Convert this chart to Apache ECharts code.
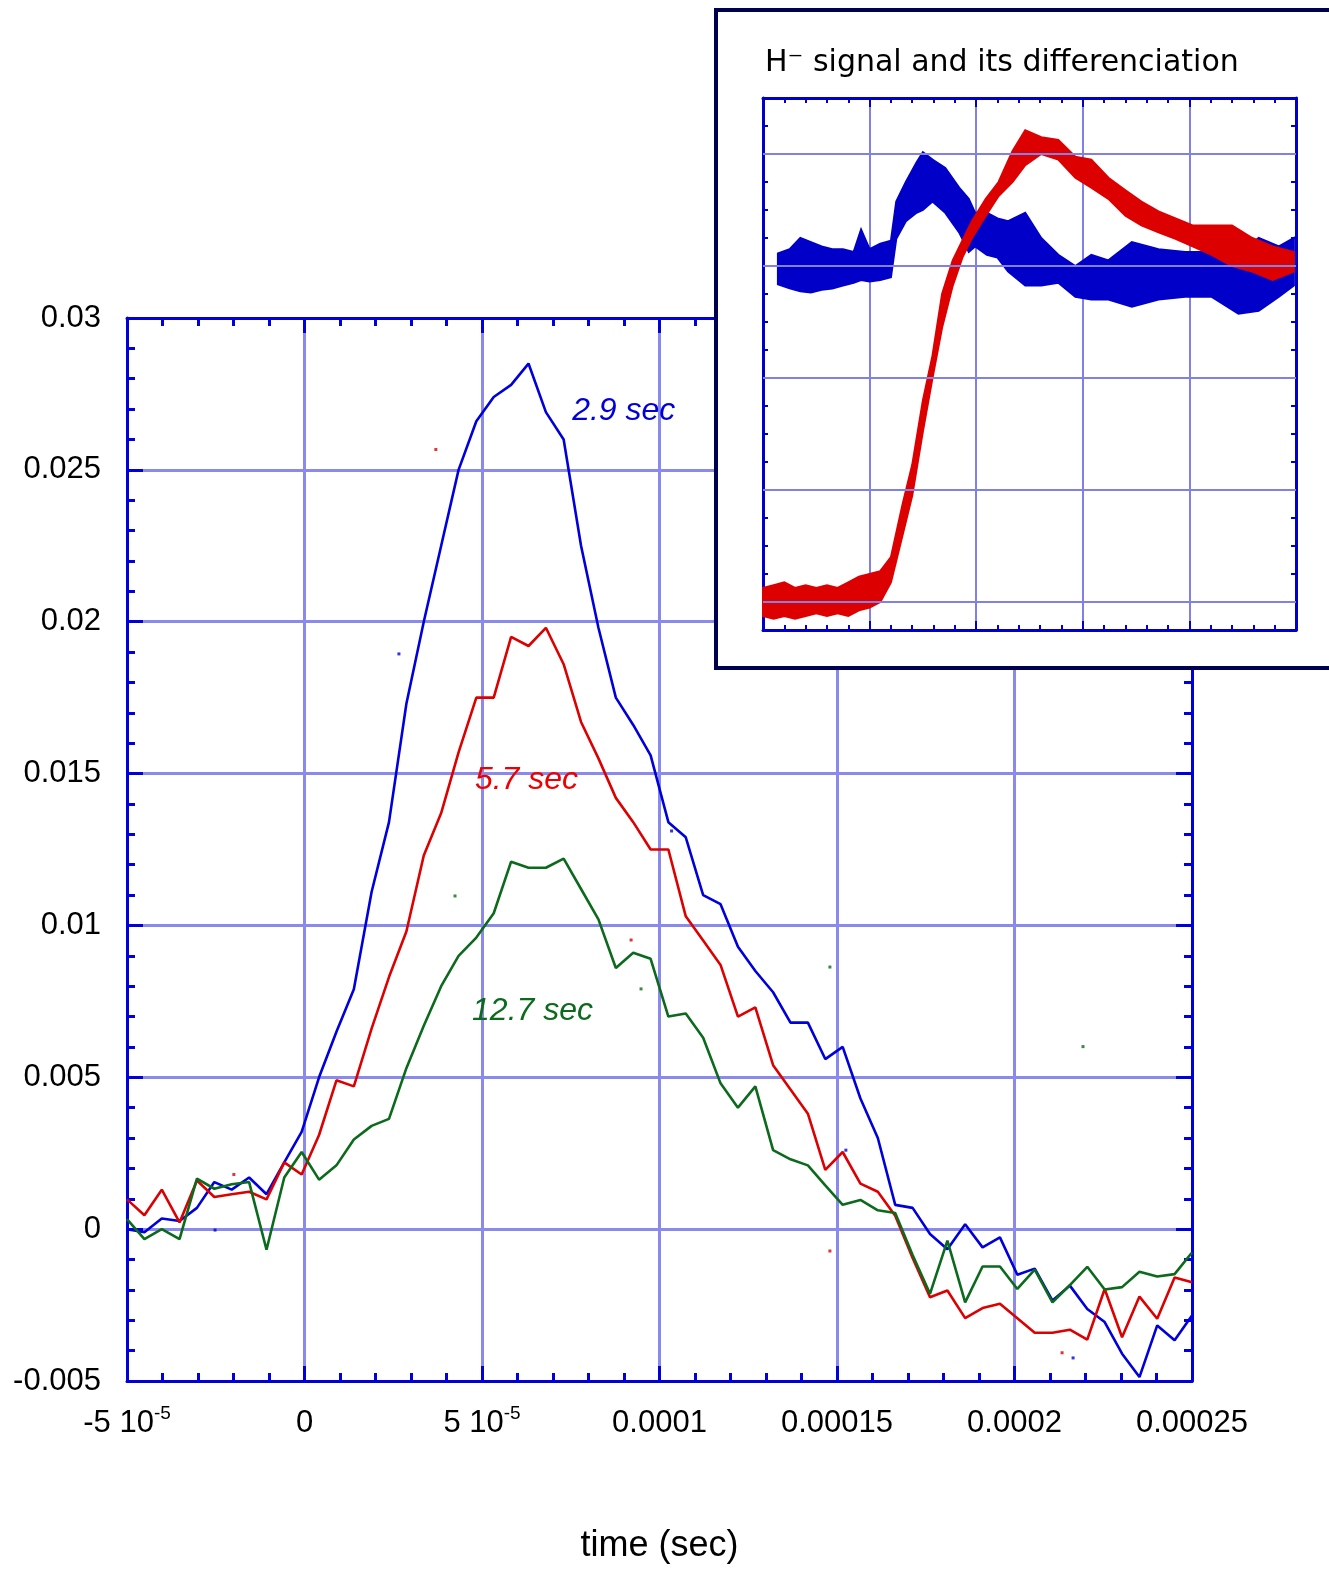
<!DOCTYPE html>
<html>
<head>
<meta charset="utf-8">
<title>H- signal</title>
<script src="https://cdn.jsdelivr.net/npm/echarts@6/dist/echarts.min.js"></script>
<style>
    html, body { margin: 0; padding: 0; background: #fff; overflow: hidden; }
    #main { position: absolute; left: 0; top: 0; width: 1329px; height: 1569px; }
    #inset { position: absolute; left: 714px; top: 8px; width: 622px; height: 662px;
             border: 4px solid #000050; box-sizing: border-box; background: #fff; }
    #insetChart { width: 614px; height: 654px; }
</style>
</head>
<body>
<div id="main"></div>
<div id="inset"><div id="insetChart"></div></div>
<script>
// 采样时间 (微秒)
var timeUs = [-50.0, -45.1, -40.2, -35.2, -30.3, -25.4, -20.5, -15.6, -10.7, -5.7,
    -0.8, 4.1, 9.0, 13.9, 18.9, 23.8, 28.7, 33.6, 38.5, 43.4,
    48.4, 53.3, 58.2, 63.1, 68.0, 73.0, 77.9, 82.8, 87.7, 92.6,
    97.5, 102.5, 107.4, 112.3, 117.2, 122.1, 127.0, 132.0, 136.9, 141.8,
    146.7, 151.6, 156.6, 161.5, 166.4, 171.3, 176.2, 181.1, 186.1, 191.0,
    195.9, 200.8, 205.7, 210.7, 215.6, 220.5, 225.4, 230.3, 235.2, 240.2,
    245.1, 250.0];

// 2.9 sec
var blueVals = [0.0000, -0.0001, 0.00035, 0.00027, 0.0007, 0.00155, 0.0013, 0.0017, 0.00115, 0.0022,
    0.0032, 0.0050, 0.0065, 0.0079, 0.0111, 0.0134, 0.0173, 0.0200, 0.0225, 0.0250,
    0.0266, 0.0274, 0.0278, 0.0285, 0.0269, 0.0260, 0.0225, 0.0198, 0.0175, 0.0166,
    0.0156, 0.0134, 0.0129, 0.0110, 0.0107, 0.0093, 0.0085, 0.0078, 0.0068, 0.0068,
    0.0056, 0.0060, 0.0043, 0.0030, 0.0008, 0.0007, -0.00016, -0.00066, 0.00016, -0.0006,
    -0.00027, -0.0015, -0.0013, -0.00235, -0.00186, -0.00263, -0.00306, -0.0041, -0.00487, -0.00317,
    -0.00366, -0.00284];

// 5.7 sec
var redVals = [0.00098, 0.00046, 0.0013, 0.00022, 0.0016, 0.00106, 0.00115, 0.00123, 0.00098, 0.0022,
    0.0018, 0.0031, 0.0049, 0.0047, 0.0066, 0.0083, 0.0098, 0.0123, 0.0137, 0.0157,
    0.0175, 0.0175, 0.0195, 0.0192, 0.0198, 0.0186, 0.0167, 0.0155, 0.0142, 0.0134,
    0.0125, 0.0125, 0.0103, 0.0095, 0.0087, 0.0070, 0.0073, 0.0054, 0.0046, 0.0038,
    0.00195, 0.00254, 0.0015, 0.00123, 0.00044, -0.00095, -0.00224, -0.00202, -0.00293, -0.0026,
    -0.00246, -0.00293, -0.00341, -0.00341, -0.00331, -0.00364, -0.00197, -0.00356, -0.00222, -0.00295,
    -0.00159, -0.00175];

// 12.7 sec
var greenVals = [0.00033, -0.00033, 0.0000, -0.00033, 0.00166, 0.00133, 0.00148, 0.00155, -0.00068, 0.0017,
    0.00254, 0.00163, 0.0021, 0.00295, 0.0034, 0.00363, 0.0053, 0.0067, 0.0080, 0.0090,
    0.0096, 0.0104, 0.0121, 0.0119, 0.0119, 0.0122, 0.0112, 0.0102, 0.0086, 0.0091,
    0.0089, 0.0070, 0.0071, 0.0063, 0.0048, 0.0040, 0.0047, 0.0026, 0.0023, 0.0021,
    0.00144, 0.0008, 0.00096, 0.00062, 0.00053, -0.00085, -0.00213, -0.00038, -0.00241, -0.00123,
    -0.00123, -0.00197, -0.00133, -0.00241, -0.00184, -0.00124, -0.00199, -0.00191, -0.0014, -0.00156,
    -0.00148, -0.00077];

// 散点 [微秒, 值]
var blueDots = [[26.6, 0.01894], [-25.2, -0.00003], [152.5, 0.0026], [216.5, -0.00424], [103.4, 0.01311]];
var redDots = [[37.0, 0.02567], [92.0, 0.00952], [148.0, -0.00072], [-19.9, 0.0018], [213.4, -0.00407]];
var greenDots = [[42.4, 0.01097], [94.8, 0.00791], [148.0, 0.00863], [219.3, 0.00601]];

// 曲线标注 [微秒, 值]
var seriesNames = ['2.9 sec', '5.7 sec', '12.7 sec'];
var labelAt = [[75.4, 0.02695], [48.0, 0.0148], [47.2, 0.00719]];

var xTickLabels = ['{b|-5 10}{sup|-5}', '{b|0}', '{b|5 10}{sup|-5}', '{b|0.0001}', '{b|0.00015}', '{b|0.0002}', '{b|0.00025}'];
var yTickLabels = ['-0.005', '0', '0.005', '0.01', '0.015', '0.02', '0.025', '0.03'];

// 插图数据 (任意单位), 噪声带的上下包络
var blueU = [0.14, 0.25, 0.35, 0.45, 0.55, 0.65, 0.75, 0.85, 0.92, 1.0, 1.1, 1.2, 1.25, 1.34, 1.44, 1.5, 1.59, 1.71,
    1.84, 1.93, 1.99, 2.1, 2.2, 2.3, 2.46, 2.61, 2.77, 2.93, 3.08, 3.24, 3.46, 3.71, 3.96, 4.21, 4.46, 4.65, 4.84, 4.98];
var blueLow = [12.35, 12.2, 12.1, 12.05, 12.15, 12.2, 12.3, 12.4, 12.5, 12.45, 12.5, 12.6, 13.97, 14.6, 14.9, 15.0, 15.3, 14.9,
    14.2, 13.5, 13.7, 13.4, 13.3, 12.8, 12.3, 12.3, 12.4, 11.9, 11.8, 11.8, 11.55, 11.8, 11.9, 11.9, 11.3, 11.4, 11.9, 12.3];
var blueHigh = [13.45, 13.6, 14.0, 13.85, 13.7, 13.6, 13.6, 13.5, 14.3, 13.6, 13.8, 13.9, 15.3, 16.0, 16.7, 17.06, 16.8, 16.5,
    15.8, 15.4, 14.9, 14.9, 14.7, 14.6, 14.9, 14.0, 13.4, 13.0, 13.4, 13.2, 13.85, 13.6, 13.5, 13.5, 13.4, 14.0, 13.7, 14.0];

var redU = [0.0, 0.1, 0.2, 0.3, 0.4, 0.5, 0.6, 0.7, 0.8, 0.9, 1.0, 1.1, 1.2, 1.31, 1.4, 1.5, 1.59, 1.68, 1.78, 1.87,
    1.96, 2.09, 2.21, 2.34, 2.46, 2.61, 2.77, 2.93, 3.08, 3.24, 3.4, 3.55, 3.71, 3.87, 4.03, 4.21, 4.4, 4.59, 4.78, 4.98];
var redLow = [0.5, 0.4, 0.5, 0.4, 0.5, 0.6, 0.5, 0.6, 0.5, 0.7, 0.8, 1.0, 1.7, 3.4, 4.8, 7.1, 9.0, 10.8, 12.3, 13.3,
    14.0, 14.8, 15.5, 16.0, 16.6, 17.0, 16.8, 16.15, 15.8, 15.4, 14.8, 14.45, 14.2, 13.97, 13.7, 13.4, 13.0, 12.8, 12.5, 12.8];
var redHigh = [1.5, 1.6, 1.7, 1.5, 1.6, 1.5, 1.6, 1.5, 1.7, 1.9, 2.0, 2.1, 2.6, 4.5, 5.9, 8.2, 9.8, 12.0, 13.2, 13.9,
    14.6, 15.4, 16.0, 17.1, 17.85, 17.6, 17.5, 16.9, 16.8, 16.15, 15.7, 15.3, 14.95, 14.7, 14.45, 14.45, 14.45, 14.0, 13.7, 13.5];
var insetGridY = [1, 5, 9, 13, 17];

var X_MIN = -5e-5, X_MAX = 2.5e-4, X_STEP = 5e-5;
var Y_MIN = -0.005, Y_MAX = 0.03, Y_STEP = 0.005;
var FONT = 'Liberation Sans, Arial, sans-serif';
var AXIS_BLUE = '#0000dd';
var GRID_BLUE = '#8a8aee';
var colors = ['#0000dd', '#dd0000', '#0c6a1c'];
var labelColors = ['#0000dd', '#ee0000', '#0c6a1c'];

function toPairs(vals) {
    return timeUs.map(function (t, i) {
        return [t * 1e-6, vals[i]];
    });
}

function dotPairs(list) {
    return list.map(function (d) {
        return [d[0] * 1e-6, d[1]];
    });
}

function mainXAxis(position, isMain) {
    return {
        type: 'value',
        position: position,
        min: X_MIN,
        max: X_MAX,
        interval: X_STEP,
        axisLine: {show: true, onZero: false, lineStyle: {color: AXIS_BLUE, width: 3}},
        axisTick: {show: true, inside: true, length: 15, lineStyle: {color: AXIS_BLUE, width: 3}},
        minorTick: {show: true, splitNumber: 5, length: 8, lineStyle: {color: AXIS_BLUE, width: 3}},
        splitLine: {show: isMain, lineStyle: {color: GRID_BLUE, width: 3}},
        axisLabel: {
            show: isMain,
            margin: 27,
            color: '#000',
            fontFamily: FONT,
            formatter: function (value) {
                var i = Math.round((value - X_MIN) / X_STEP);
                return xTickLabels[i] || '';
            },
            rich: {
                b: {fontSize: 31, lineHeight: 31, padding: [4, 0, 0, 0], fontFamily: FONT, color: '#000', verticalAlign: 'bottom'},
                sup: {fontSize: 19, lineHeight: 19, padding: [0, 0, 16, 0], fontFamily: FONT, color: '#000', verticalAlign: 'bottom'}
            }
        },
        name: isMain ? 'time (sec)' : '',
        nameLocation: 'middle',
        nameGap: 147,
        nameTextStyle: {fontSize: 36, fontFamily: FONT, color: '#000'}
    };
}

function mainYAxis(position, isMain) {
    return {
        type: 'value',
        position: position,
        min: Y_MIN,
        max: Y_MAX,
        interval: Y_STEP,
        axisLine: {show: true, onZero: false, lineStyle: {color: AXIS_BLUE, width: 3}},
        axisTick: {show: true, inside: true, length: 16, lineStyle: {color: AXIS_BLUE, width: 3}},
        minorTick: {show: true, splitNumber: 5, length: 8, lineStyle: {color: AXIS_BLUE, width: 3}},
        splitLine: {show: isMain, lineStyle: {color: GRID_BLUE, width: 3}},
        axisLabel: {
            show: isMain,
            margin: 26,
            fontSize: 31,
            color: '#000',
            fontFamily: FONT,
            formatter: function (value) {
                var i = Math.round((value - Y_MIN) / Y_STEP);
                return yTickLabels[i] || '';
            }
        }
    };
}

var vals = [blueVals, redVals, greenVals];
var dots = [blueDots, redDots, greenDots];
var mainSeries = [];
for (var s = 0; s < 3; s++) {
    mainSeries.push({
        name: seriesNames[s],
        type: 'line',
        data: toPairs(vals[s]),
        symbol: 'none',
        lineStyle: {color: colors[s], width: 2.6},
        z: 5,
        markPoint: {
            symbol: 'circle',
            symbolSize: 0,
            itemStyle: {color: 'rgba(0,0,0,0)'},
            label: {
                show: true,
                position: 'right',
                distance: 0,
                formatter: seriesNames[s],
                color: labelColors[s],
                fontSize: 32,
                fontStyle: 'italic',
                fontFamily: FONT
            },
            data: [{coord: [labelAt[s][0] * 1e-6, labelAt[s][1]]}]
        }
    });
    mainSeries.push({
        type: 'scatter',
        data: dotPairs(dots[s]),
        symbol: 'rect',
        symbolSize: 3,
        itemStyle: {color: colors[s]},
        z: 5
    });
}

var mainChart = echarts.init(document.getElementById('main'));
mainChart.setOption({
    animation: false,
    backgroundColor: '#fff',
    grid: {left: 127, top: 318, width: 1065, height: 1066, containLabel: false},
    xAxis: [mainXAxis('bottom', true), mainXAxis('top', false)],
    yAxis: [mainYAxis('left', true), mainYAxis('right', false)],
    series: mainSeries
});

/**
 * 插图: H- 信号及其微分
 */
var INSET_AXIS = '#0000c8';
var INSET_GRID = '#8080e6';
var insetRed = '#dd0000';
var insetBlue = '#0000c8';

function insetXAxis(position, isMain) {
    return {
        type: 'value',
        position: position,
        min: 0,
        max: 5,
        interval: 1,
        axisLine: {show: true, onZero: false, lineStyle: {color: INSET_AXIS, width: 3}},
        axisTick: {show: true, inside: true, length: 9, lineStyle: {color: INSET_AXIS, width: 2}},
        minorTick: {show: true, splitNumber: 5, length: 5, lineStyle: {color: INSET_AXIS, width: 2}},
        splitLine: {show: isMain, lineStyle: {color: INSET_GRID, width: 2}},
        axisLabel: {show: false}
    };
}

function insetYAxis(position) {
    return {
        type: 'value',
        position: position,
        min: 0,
        max: 19,
        interval: 1,
        axisLine: {show: true, onZero: false, lineStyle: {color: INSET_AXIS, width: 3}},
        axisTick: {show: true, inside: true, length: 5, lineStyle: {color: INSET_AXIS, width: 2}},
        splitLine: {show: false},
        axisLabel: {show: false}
    };
}

// 噪声带: 上包络从左到右, 下包络从右到左, 组成一个多边形
function bandSeries(u, low, high, color) {
    return {
        type: 'custom',
        data: [[u[0], low[0]]],
        z: 3,
        silent: true,
        renderItem: function (params, api) {
            var pts = [];
            var i;
            for (i = 0; i < u.length; i++) {
                pts.push(api.coord([u[i], high[i]]));
            }
            for (i = u.length - 1; i >= 0; i--) {
                pts.push(api.coord([u[i], low[i]]));
            }
            return {
                type: 'polygon',
                shape: {points: pts},
                style: {fill: color, stroke: color, lineWidth: 2}
            };
        }
    };
}

var insetSeries = [{
    type: 'line',
    data: [],
    z: 1,
    markLine: {
        silent: true,
        symbol: 'none',
        label: {show: false},
        lineStyle: {color: INSET_GRID, width: 2, type: 'solid'},
        data: insetGridY.map(function (v) { return {yAxis: v}; })
    }
}];
insetSeries.push(bandSeries(blueU, blueLow, blueHigh, insetBlue));
insetSeries.push(bandSeries(redU, redLow, redHigh, insetRed));

var insetChart = echarts.init(document.getElementById('insetChart'));
insetChart.setOption({
    animation: false,
    backgroundColor: '#fff',
    title: {
        text: 'H⁻ signal and its differenciation',
        left: 42,
        top: 31,
        textStyle: {fontFamily: 'DejaVu Sans', fontSize: 30, fontWeight: 'normal', color: '#000'}
    },
    grid: {left: 45, top: 86, width: 533, height: 532, containLabel: false},
    xAxis: [insetXAxis('bottom', true), insetXAxis('top', false)],
    yAxis: [insetYAxis('left'), insetYAxis('right')],
    series: insetSeries
});
</script>
</body>
</html>
